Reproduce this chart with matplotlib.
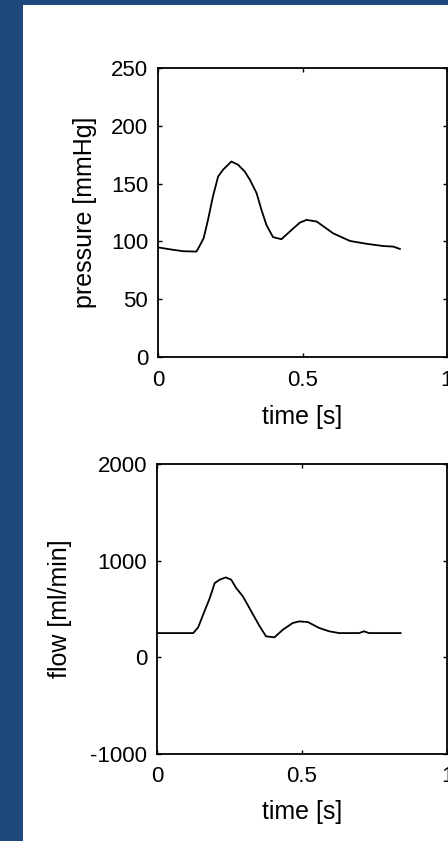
import numpy as np
import matplotlib.pyplot as plt
from matplotlib.patches import Rectangle

# pressure waveform
t_p = [0.003, 0.04, 0.087, 0.133, 0.144, 0.158, 0.173, 0.19, 0.208, 0.225,
       0.254, 0.277, 0.30, 0.318, 0.341, 0.358, 0.375, 0.398, 0.427, 0.456,
       0.491, 0.514, 0.549, 0.606, 0.664, 0.722, 0.779, 0.814, 0.837]
pressure = [94.7, 93.2, 91.5, 91.2, 96.1, 102.8, 118.6, 138.8, 156.1, 162.0,
            169.1, 166.3, 160.5, 153.3, 141.8, 127.3, 114.3, 103.7, 101.9, 108.5,
            116.3, 118.6, 117.2, 107.0, 100.4, 97.9, 96.0, 95.5, 93.5]

# flow waveform
t_q = [0.0, 0.125, 0.142, 0.159, 0.182, 0.199, 0.216, 0.237, 0.256, 0.273,
       0.296, 0.325, 0.354, 0.376, 0.405, 0.434, 0.468, 0.491, 0.52, 0.56,
       0.594, 0.628, 0.697, 0.714, 0.731, 0.84]
flow = [251, 251, 310, 441, 613, 768, 803, 827, 803, 717,
        631, 476, 321, 217, 207, 286, 355, 372, 365, 303,
        269, 251, 251, 269, 251, 251]

W, H = 448, 841
fig = plt.figure(figsize=(W / 100, H / 100), dpi=100, facecolor='#1F497D')
fig.patches.append(Rectangle((23 / W, 0), 1, 1 - 5 / H, transform=fig.transFigure,
                             facecolor='white', edgecolor='none', zorder=-10))

plt.rcParams['font.family'] = ['Liberation Sans', 'DejaVu Sans']
plt.rcParams['axes.unicode_minus'] = False
tick_fs = 16
lab_fs = 18


def style(ax):
    ax.set_facecolor('white')
    for s in ax.spines.values():
        s.set_linewidth(1.3)
    ax.tick_params(direction='in', length=3, width=1, top=True, right=True,
                   labelsize=tick_fs)
    ax.tick_params(axis='y', pad=7)
    ax.tick_params(axis='x', pad=9)


# top: pressure
ax1 = fig.add_axes([158 / W, 1 - 357 / H, 289 / W, 289 / H])
ax1.plot(t_p, pressure, color='black', lw=1.3)
ax1.set_xlim(0, 1)
ax1.set_ylim(0, 250)
ax1.set_xticks([0, 0.5, 1])
ax1.set_xticklabels(['0', '0.5', '1'])
ax1.set_yticks([0, 50, 100, 150, 200, 250])
ax1.set_xlabel('time [s]', fontsize=lab_fs)
ax1.set_ylabel('pressure [mmHg]', fontsize=lab_fs)
ax1.xaxis.set_label_coords(0.5, -0.165)
ax1.yaxis.set_label_coords(-0.211, 0.5)
style(ax1)

# bottom: flow
ax2 = fig.add_axes([157 / W, 1 - 754 / H, 290 / W, 290 / H])
ax2.plot(t_q, flow, color='black', lw=1.3)
ax2.set_xlim(0, 1)
ax2.set_ylim(-1000, 2000)
ax2.set_xticks([0, 0.5, 1])
ax2.set_xticklabels(['0', '0.5', '1'])
ax2.set_yticks([-1000, 0, 1000, 2000])
ax2.set_yticklabels(['-1000', '0', '1000', '2000'])
ax2.set_xlabel('time [s]', fontsize=lab_fs)
ax2.set_ylabel('flow [ml/min]', fontsize=lab_fs)
ax2.xaxis.set_label_coords(0.5, -0.159)
ax2.yaxis.set_label_coords(-0.293, 0.5)
style(ax2)

fig.savefig('out.png', dpi=100, facecolor=fig.get_facecolor())
